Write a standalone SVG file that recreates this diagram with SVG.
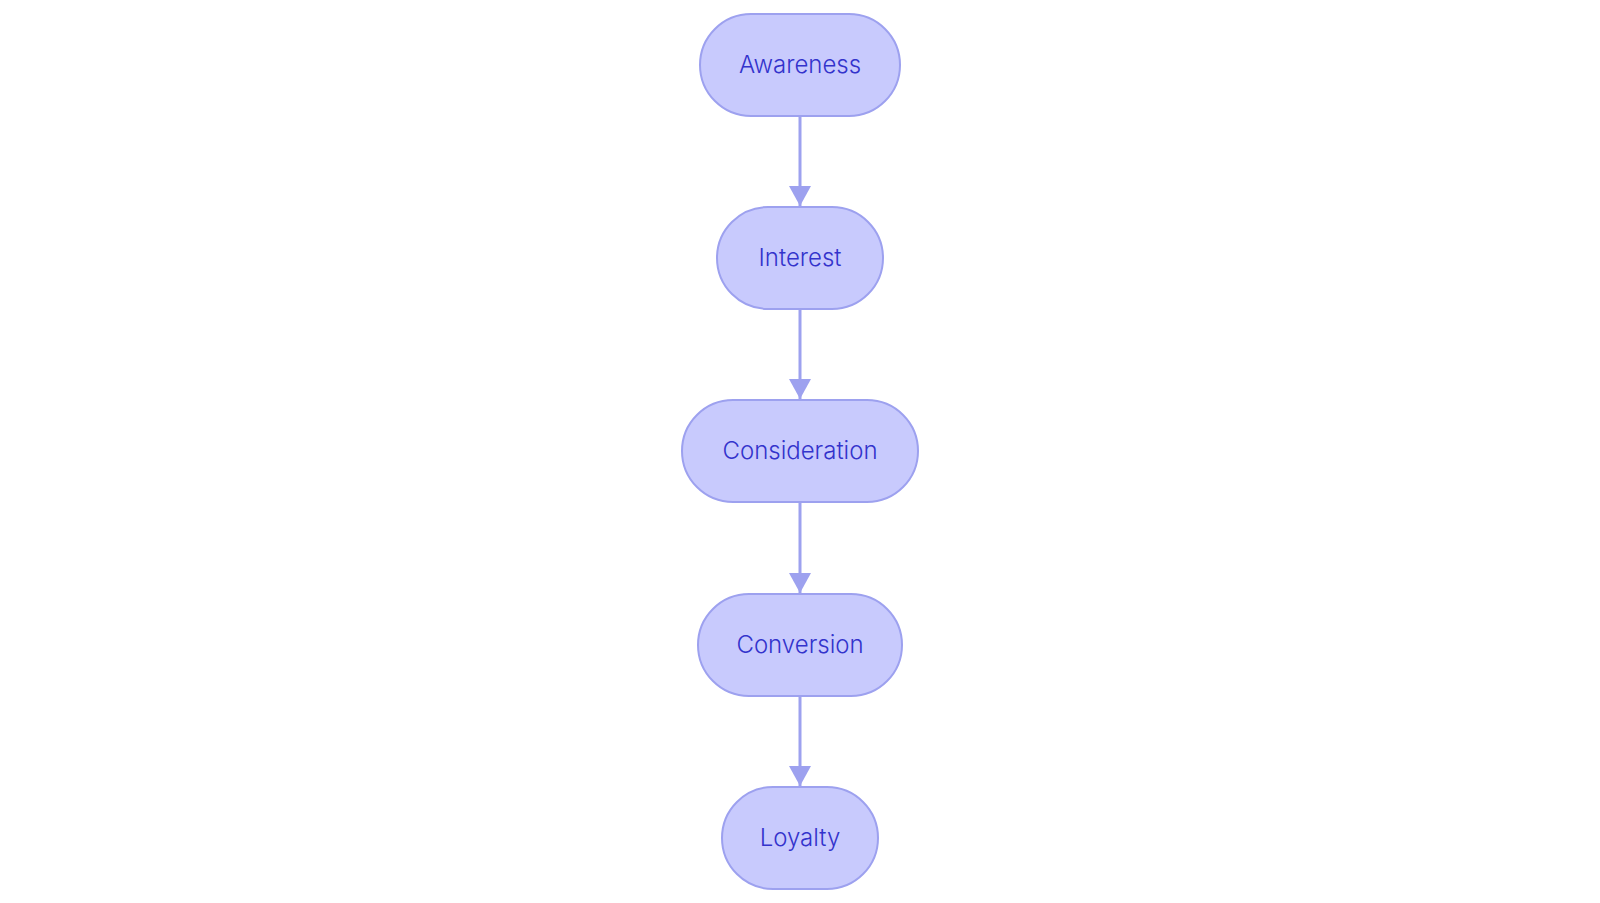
<svg xmlns="http://www.w3.org/2000/svg" width="1600" height="903" viewBox="0 0 1600 903">
<style>
.n rect{fill:#c8cafd;stroke:#9da1ef;stroke-width:2}
.n text{font-family:Inter,"Noto Sans",sans-serif;font-size:24px;font-weight:300;fill:#3333cc;text-anchor:middle;dominant-baseline:central}
.e line{stroke:#9da1ef;stroke-width:3}
</style>
<defs><marker id="a" markerWidth="22" markerHeight="22" refX="20" refY="11" orient="auto" markerUnits="userSpaceOnUse" viewBox="0 0 22 22"><path d="M0,0L20,11L0,22z" fill="#9da1ef"/></marker></defs>
<rect width="1600" height="903" fill="#fff"/>
<g class="e">
<line x1="800" y1="116" x2="800" y2="206" marker-end="url(#a)"/>
<line x1="800" y1="309" x2="800" y2="399" marker-end="url(#a)"/>
<line x1="800" y1="502" x2="800" y2="593" marker-end="url(#a)"/>
<line x1="800" y1="696" x2="800" y2="786" marker-end="url(#a)"/>
</g>
<g id="awareness" class="n"><rect x="700" y="14" width="200" height="102" rx="51"/><text x="800" y="64">Awareness</text></g>
<g id="interest" class="n"><rect x="717" y="207" width="166" height="102" rx="51"/><text x="800" y="257">Interest</text></g>
<g id="consideration" class="n"><rect x="682" y="400" width="236" height="102" rx="51"/><text x="800" y="450">Consideration</text></g>
<g id="conversion" class="n"><rect x="698" y="594" width="204" height="102" rx="51"/><text x="800" y="644">Conversion</text></g>
<g id="loyalty" class="n"><rect x="722" y="787" width="156" height="102" rx="51"/><text x="800" y="837">Loyalty</text></g>
</svg>
